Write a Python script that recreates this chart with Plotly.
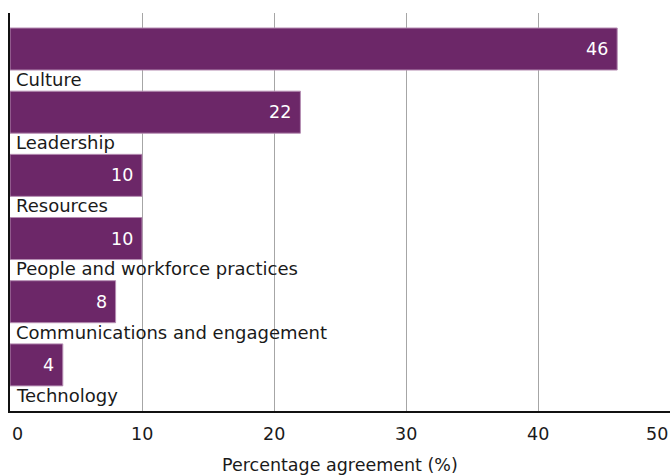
import plotly.graph_objects as go

categories = ["Culture", "Leadership", "Resources", "People and workforce practices",
              "Communications and engagement", "Technology"]
values = [46, 22, 10, 10, 8, 4]
tick_vals = [0, 10, 20, 30, 40, 50]
tick_text = ["0", "10", "20", "30", "40", "50"]
x_title = "Percentage agreement (%)"

FONT = "DejaVu Sans"
SIZE = 18
BAR = "#6c2768"
TXT = "#1a1a1a"
idx = list(range(len(categories)))

fig = go.Figure()
fig.add_trace(go.Bar(
    x=values, y=idx, orientation="h", width=0.665,
    marker=dict(color=BAR, line=dict(color="#b58db2", width=1)),
    hoverinfo="skip",
))

plot_top, plot_bot = 13, 475 - 64
def paper_y(py):
    return (plot_bot - py) / (plot_bot - plot_top)

annotations = []
for i, (c, v) in enumerate(zip(categories, values)):
    annotations.append(dict(x=0, y=i + 0.48, xref="x", yref="y", text=c,
                            showarrow=False, xanchor="left", yanchor="middle",
                            xshift=4, font=dict(family=FONT, size=SIZE, color=TXT)))
    annotations.append(dict(x=v, y=i, xref="x", yref="y", text=str(v),
                            showarrow=False, xanchor="right", yanchor="middle",
                            xshift=-7, font=dict(family=FONT, size=17.5, color="white")))

for tv, tt in zip(tick_vals, tick_text):
    if tv == tick_vals[0]:
        anchor = "left"
    elif tv == tick_vals[-1]:
        anchor = "right"
    else:
        anchor = "center"
    annotations.append(dict(x=tv, y=paper_y(434), xref="x", yref="paper", yanchor="middle",
                            xanchor=anchor, text=tt, showarrow=False,
                            font=dict(family=FONT, size=17.5, color=TXT)))

annotations.append(dict(x=0.5, y=paper_y(465), xref="paper", yref="paper",
                        xanchor="center", yanchor="middle", text=x_title,
                        showarrow=False, font=dict(family=FONT, size=17.5, color=TXT)))

fig.update_layout(
    width=671, height=475,
    margin=dict(l=10, r=1, t=13, b=64, autoexpand=False),
    paper_bgcolor="white", plot_bgcolor="white",
    showlegend=False,
    annotations=annotations,
    font=dict(family=FONT, size=16, color=TXT),
    xaxis=dict(range=[0, 50], tickvals=tick_vals, showticklabels=False,
               showgrid=True, gridcolor="#a6a6a6", gridwidth=1,
               zeroline=False, showline=True, linecolor="#111", linewidth=1.5,
               ticks="", automargin=False),
    yaxis=dict(range=[5.73, -0.57], showticklabels=False, showgrid=False,
               zeroline=False, showline=True, linecolor="#111", linewidth=1.5,
               ticks="", automargin=False),
)

fig.write_html("out.html", config={"displayModeBar": False},
               post_script="document.body.style.margin='0';document.body.style.padding='0';")
